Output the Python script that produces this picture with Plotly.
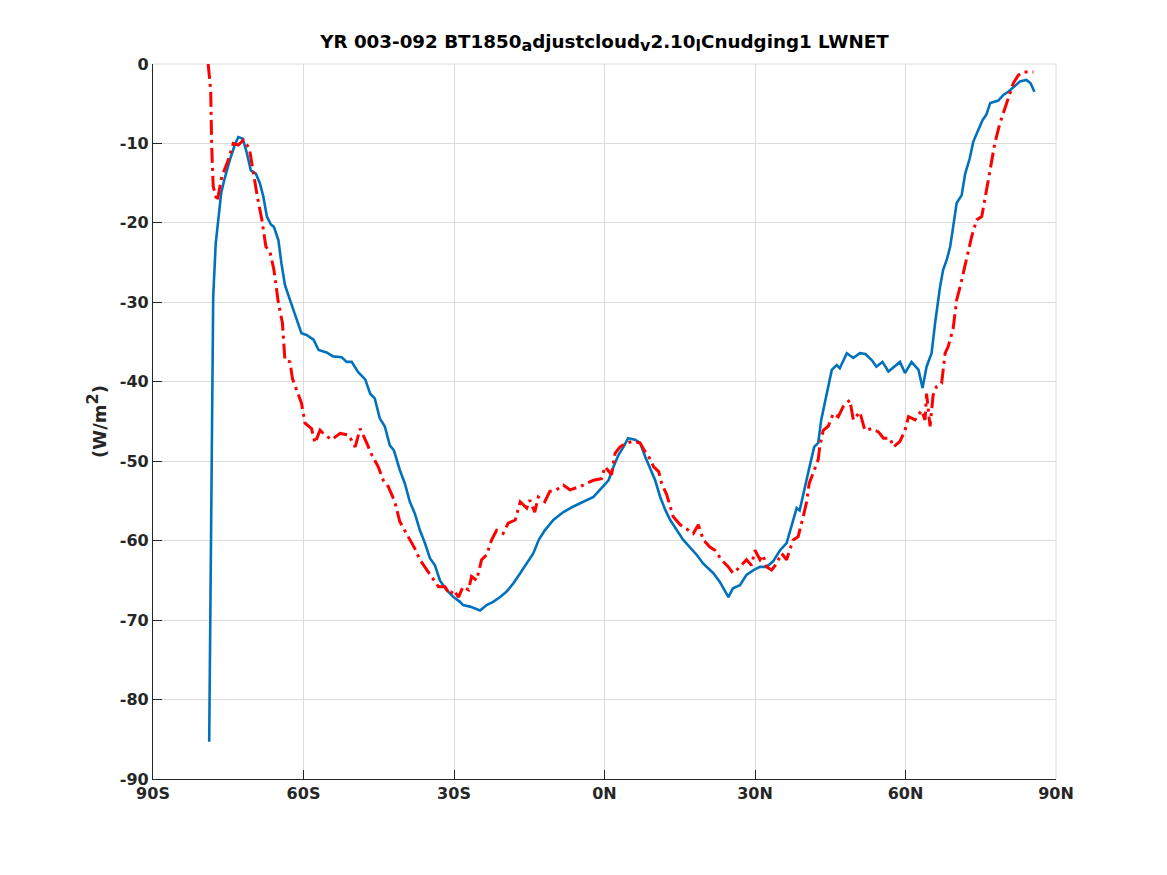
import plotly.graph_objects as go

# zonal mean LWNET
blue_lat = [-78.8, -78.0, -77.5, -76.4, -75.8, -74.7, -73.7, -73.0, -72.1, -71.3,
            -70.5, -69.5, -68.7, -68.0, -67.3, -66.5, -65.9, -65.0, -64.4, -63.7,
            -62.7, -61.4, -60.4, -59.4, -58.0, -57.0, -55.4, -54.1, -52.4, -51.4,
            -50.4, -49.1, -47.7, -46.7, -45.8, -44.8, -43.8, -42.8, -42.0, -40.8,
            -39.8, -38.8, -37.8, -36.8, -35.8, -34.8, -33.8, -32.8, -31.5, -30.1,
            -28.8, -28.2, -26.8, -24.8, -23.5, -22.2, -20.8, -19.5, -18.2, -16.8,
            -15.5, -14.2, -13.1, -11.9, -10.2, -8.2, -6.2, -4.2, -2.2, -0.6,
            0.8, 1.8, 2.8, 3.8, 4.7, 6.1, 7.1, 8.1, 9.1, 10.1,
            11.1, 12.1, 13.1, 14.4, 15.7, 17.0, 18.4, 19.7, 21.7, 23.0,
            24.7, 25.6, 27.0, 28.3, 29.7, 31.0, 32.3, 33.6, 35.0, 36.3,
            37.3, 38.3, 38.9, 39.9, 40.8, 41.8, 42.6, 43.2, 44.2, 45.3,
            46.3, 46.9, 48.3, 49.6, 50.9, 52.0, 53.3, 54.2, 55.4, 56.6,
            58.9, 59.9, 61.2, 62.6, 63.4, 64.2, 65.2, 65.9, 66.9, 67.5,
            68.2, 68.9, 69.5, 70.2, 71.2, 71.9, 72.8, 73.5, 74.5, 75.4,
            76.1, 76.9, 78.5, 79.5, 80.5, 81.5, 82.8, 84.1, 84.9, 85.7]
blue_val = [-85.3, -29.3, -22.6, -16.2, -14.6, -12.1, -10.2, -9.2, -9.4, -11.2,
            -13.4, -13.8, -15.0, -16.7, -19.2, -20.2, -20.5, -22.2, -25.1, -27.8,
            -29.7, -32.2, -33.9, -34.1, -34.7, -36.0, -36.3, -36.8, -36.9, -37.5,
            -37.5, -38.8, -39.7, -41.5, -42.1, -44.6, -45.6, -48.0, -48.6, -51.1,
            -52.8, -55.1, -56.6, -58.7, -60.3, -62.2, -63.1, -65.0, -66.2, -67.1,
            -67.7, -68.1, -68.3, -68.8, -68.1, -67.7, -67.1, -66.4, -65.4, -64.1,
            -62.9, -61.6, -59.9, -58.7, -57.4, -56.4, -55.7, -55.1, -54.5, -53.4,
            -52.4, -50.7, -49.2, -48.2, -47.1, -47.3, -47.7, -49.4, -50.9, -52.4,
            -54.5, -56.1, -57.4, -58.7, -59.9, -60.8, -61.8, -62.9, -64.1, -65.2,
            -67.1, -66.0, -65.6, -64.3, -63.7, -63.3, -63.3, -62.6, -61.2, -60.3,
            -58.2, -55.9, -56.2, -53.2, -50.9, -48.2, -47.7, -44.8, -41.9, -38.5,
            -37.9, -38.3, -36.4, -37.0, -36.4, -36.5, -37.3, -38.1, -37.5, -38.7,
            -37.5, -38.9, -37.5, -38.5, -40.8, -38.1, -36.4, -32.6, -28.0, -25.9,
            -24.7, -23.0, -20.5, -17.5, -16.5, -13.8, -11.9, -9.8, -8.3, -7.0,
            -6.4, -4.9, -4.6, -3.9, -3.5, -2.9, -2.2, -2.0, -2.4, -3.5]

red_lat = [-79.0, -78.5, -78.3, -78.0, -77.2, -76.3, -75.0, -74.0, -73.0, -72.0,
           -70.8, -70.0, -69.2, -68.3, -67.5, -66.7, -65.9, -65.0, -64.2, -63.7,
           -62.7, -62.2, -60.4, -59.7, -58.4, -57.7, -56.7, -55.7, -54.4, -52.7,
           -51.0, -49.7, -48.7, -47.4, -46.4, -45.1, -44.1, -43.1, -41.8, -40.8,
           -39.8, -38.8, -37.8, -36.8, -35.8, -34.5, -33.1, -31.8, -30.8, -30.1,
           -29.1, -28.2, -27.1, -26.5, -25.5, -24.5, -23.5, -22.5, -21.5, -20.2,
           -19.2, -17.8, -16.8, -15.5, -14.9, -13.9, -13.2, -11.9, -10.9, -9.6,
           -8.2, -6.9, -4.9, -3.6, -2.2, -0.6, 0.1, 1.4, 2.1, 3.1,
           4.4, 5.7, 7.1, 8.1, 8.8, 9.8, 10.8, 11.4, 12.4, 13.1,
           13.7, 15.1, 16.4, 17.7, 18.7, 19.7, 21.0, 22.0, 23.3, 24.7,
           25.6, 26.7, 28.3, 29.3, 30.0, 31.0, 31.6, 32.3, 33.3, 34.3,
           35.3, 36.3, 37.6, 38.6, 39.6, 40.3, 40.8, 41.8, 42.6, 42.9,
           43.6, 44.6, 45.6, 46.6, 47.6, 48.9, 49.6, 50.9, 51.9, 53.3,
           54.6, 55.6, 56.9, 57.6, 58.9, 59.9, 60.6, 61.9, 63.2, 63.9,
           64.2, 64.9, 65.5, 66.2, 67.2, 67.9, 68.5, 69.5, 70.2, 70.9,
           71.5, 72.5, 73.2, 74.2, 75.2, 75.8, 76.5, 77.2, 77.8, 78.8,
           79.6, 80.5, 81.5, 82.5, 83.5, 84.8, 85.5]
red_val = [0.0, -3.3, -10.4, -15.4, -17.3, -14.2, -12.1, -10.0, -10.2, -9.6,
           -10.6, -13.8, -16.7, -19.6, -23.0, -23.6, -25.9, -30.1, -32.6, -37.3,
           -37.5, -39.6, -42.7, -45.2, -45.9, -47.7, -46.1, -46.7, -47.3, -46.5,
           -46.7, -48.2, -45.9, -47.7, -49.2, -50.7, -52.4, -53.2, -55.1, -57.6,
           -58.7, -59.9, -61.0, -62.4, -63.3, -64.5, -65.8, -65.8, -66.8, -66.2,
           -67.1, -65.8, -66.2, -64.5, -65.0, -62.4, -61.8, -59.9, -58.7, -59.1,
           -57.8, -57.4, -55.1, -55.9, -54.9, -56.4, -54.5, -55.1, -53.8, -53.6,
           -53.0, -53.6, -53.2, -52.8, -52.4, -52.2, -50.7, -51.7, -49.0, -48.2,
           -47.7, -47.5, -47.7, -48.8, -49.4, -50.7, -51.3, -52.8, -54.2, -55.7,
           -57.0, -58.0, -58.5, -59.1, -58.0, -59.9, -60.8, -61.2, -62.4, -63.3,
           -64.1, -63.5, -62.4, -63.1, -61.2, -62.4, -61.8, -63.3, -63.7, -62.9,
           -61.6, -62.4, -59.9, -59.5, -57.0, -55.1, -52.8, -51.1, -49.8, -48.2,
           -46.1, -45.6, -44.0, -44.4, -43.1, -42.3, -44.8, -43.8, -46.1, -45.9,
           -46.3, -47.1, -47.1, -48.2, -47.5, -46.1, -44.4, -44.8, -43.6, -44.8,
           -41.5, -45.6, -41.7, -40.6, -40.2, -36.4, -35.6, -33.3, -29.7, -28.0,
           -26.3, -23.8, -21.7, -19.6, -19.2, -17.1, -14.6, -12.5, -10.0, -7.5,
           -6.0, -4.1, -2.4, -1.4, -1.0, -1.0, -1.0]

x_ticks = [-90, -60, -30, 0, 30, 60, 90]
x_labels = ['90S', '60S', '30S', '0N', '30N', '60N', '90N']
y_ticks = [-90, -80, -70, -60, -50, -40, -30, -20, -10, 0]
y_labels = [str(v) for v in y_ticks]  # plain hyphen, not unicode minus

sub = '<sub><span style="font-size:16px">%s</span></sub>'
title = ('YR 003-092 BT1850' + sub % 'a' + 'djustcloud' + sub % 'v' + '2.10'
         + sub % 'l' + 'Cnudging1 LWNET')

fig = go.Figure()
fig.add_trace(go.Scatter(x=blue_lat, y=blue_val, mode='lines',
                         line=dict(color='#0072BD', width=2.6)))
fig.add_trace(go.Scatter(x=red_lat, y=red_val, mode='lines',
                         line=dict(color='#FF0000', width=3,
                                   dash='15px,5px,3px,5px')))

axis_font = dict(family='DejaVu Sans', size=16, color='#262626', weight='bold')
# page body has an 8px margin, so shift the margins by that much
fig.update_layout(
    width=1167, height=875,
    margin=dict(l=145, r=119, t=56, b=104),
    paper_bgcolor='white', plot_bgcolor='white',
    showlegend=False,
    title=dict(text=title, xref='paper', x=0.5, xanchor='center',
               y=0.962, yanchor='middle',
               font=dict(family='DejaVu Sans', size=18.3, color='black',
                         weight='bold')),
)
fig.update_xaxes(range=[-90, 90], tickvals=x_ticks, ticktext=x_labels,
                 showgrid=True, gridcolor='#dcdcdc', gridwidth=1,
                 showline=True, linecolor='#262626', linewidth=1.2,
                 ticks='inside', ticklen=9, tickcolor='#262626',
                 tickfont=axis_font, zeroline=False)
fig.update_yaxes(range=[-90, 0], tickvals=y_ticks, ticktext=y_labels,
                 showgrid=True, gridcolor='#dcdcdc', gridwidth=1,
                 showline=True, linecolor='#262626', linewidth=1.2,
                 ticks='inside', ticklen=9, tickcolor='#262626',
                 tickfont=axis_font, zeroline=False,
                 title=dict(text='(W/m<sup><span style="font-size:16px">2</span></sup>)',
                            standoff=8,
                            font=dict(family='DejaVu Sans', size=18,
                                      color='#262626', weight='bold')))

# light frame on top and right, like the grid
fig.add_shape(type='line', xref='paper', yref='paper', x0=0, x1=1, y0=1, y1=1,
              line=dict(color='#dcdcdc', width=1), layer='below')
fig.add_shape(type='line', xref='paper', yref='paper', x0=1, x1=1, y0=0, y1=1,
              line=dict(color='#dcdcdc', width=1), layer='below')

fig.write_html("out.html")
